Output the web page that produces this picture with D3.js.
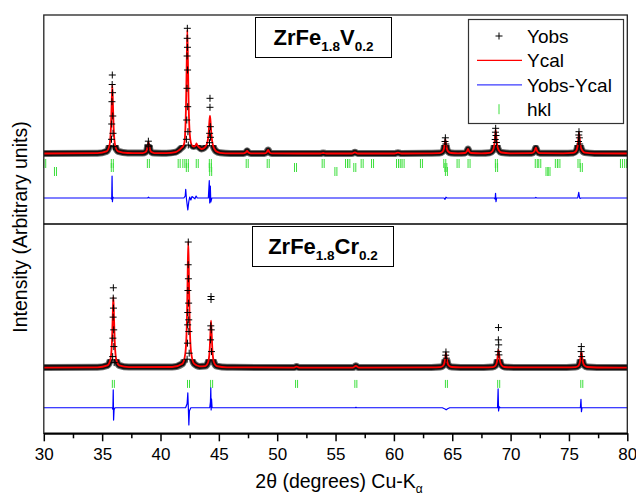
<!DOCTYPE html>
<html>
<head>
<meta charset="utf-8">
<script src="https://cdn.jsdelivr.net/npm/d3@7"></script>
<style>
  html, body { margin: 0; padding: 0; background: #fff; }
  svg { display: block; font-family: "Liberation Sans", Arial, sans-serif; }
</style>
</head>
<body>
<svg id="chart" width="636" height="497"></svg>
<script>
// ---------------- data ----------------
// 2-theta axis
const xTicks = [30, 35, 40, 45, 50, 55, 60, 65, 70, 75, 80];
const xMinorTicks = [32.5, 37.5, 42.5, 47.5, 52.5, 57.5, 62.5, 67.5, 72.5, 77.5];

// ZrFe1.8V0.2 : calculated profile [2theta, intensity]
const vYcal = [
  [30,105],[34.6,108],[35.37,126],[35.62,184],[35.75,352],[35.81,578],[35.87,790],[35.93,578],[35.99,352],[36.12,184],[36.37,126],[37.2,110],
  [38.47,109],[38.72,119],[38.85,147],[38.91,186],[38.97,223],[39.03,186],[39.09,147],[39.22,119],[39.47,109],[40.5,108],
  [41.3,118],[41.6,140],[41.8,162],[41.95,180],[42.05,215],[42.18,550],[42.24,957],[42.3,1340],[42.36,957],[42.42,550],[42.55,250],
  [42.7,185],[42.85,175],[42.98,182],[43.03,192],[43.09,205],[43.15,188],[43.28,170],[43.5,150],[43.74,160],[43.99,205],[44.12,300],
  [44.18,410],[44.24,483],[44.3,405],[44.36,295],[44.49,190],[44.74,130],[45.1,112],[46.0,106],
  [47.1,106],[47.3,115],[47.42,132],[47.54,115],[47.75,106],
  [48.9,106],[49.1,117],[49.22,140],[49.34,117],[49.55,106],
  [53.7,105],[53.94,110],[54.2,105],
  [56.4,105],[56.66,117],[56.9,105],
  [60.05,105],[60.35,113],[60.65,105],
  [63.2,107],[63.91,109],[64.16,121],[64.29,155],[64.35,202],[64.41,245],[64.47,202],[64.53,158],[64.66,124],[64.91,110],[65.5,107],
  [66.1,110],[66.27,130],[66.35,150],[66.43,130],[66.6,110],[67.5,107],
  [68.22,112],[68.47,132],[68.6,190],[68.66,267],[68.72,340],[68.78,275],[68.84,200],[68.97,140],[69.22,115],[70.0,107],
  [71.8,108],[72.04,125],[72.16,163],[72.28,128],[72.5,108],[74.5,107],
  [75.36,111],[75.61,129],[75.74,180],[75.8,249],[75.86,313],[75.92,260],[75.98,195],[76.11,140],[76.36,114],[77.2,106],
  [80,105]
];

// ZrFe1.8V0.2 : observed points on the reflections
const vYobs = [
  [35.87,890],[35.86,795],[35.89,713],[35.84,623],[35.91,480],[35.82,400],[35.93,307],[35.8,247],[35.96,173],
  [38.96,228],[38.93,192],[39.0,178],
  [42.3,1357],[42.29,1257],[42.31,1167],[42.28,1080],[42.32,940],[42.27,757],[42.33,573],[42.25,440],[42.35,323],[42.22,247],[42.38,190],
  [44.24,657],[44.24,567],[44.27,373],[44.21,307],[44.28,267],[44.2,213],
  [64.41,262],[64.38,225],[64.45,200],
  [68.72,357],[68.7,318],[68.75,285],[68.68,245],[68.78,215],
  [75.86,323],[75.84,290],[75.89,262],[75.82,225],[75.92,200]
];

// ZrFe1.8V0.2 : difference Yobs - Ycal
const vDiff = [
  [30,0],[35.75,0],[35.82,-10],[35.85,220],[35.88,-37],[35.92,10],[35.98,0],
  [38.9,0],[38.97,8],[39.05,0],
  [42.0,0],[42.12,20],[42.16,87],[42.22,-5],[42.34,-120],[42.42,-40],[42.5,10],[42.6,-20],[42.7,15],[42.95,-8],[43.05,20],[43.15,0],
  [44.1,0],[44.18,173],[44.22,-50],[44.27,120],[44.31,-40],[44.4,0],
  [64.3,0],[64.38,-13],[64.46,8],[64.55,0],
  [68.6,0],[68.68,-10],[68.71,47],[68.75,-37],[68.8,0],
  [72.1,0],[72.16,6],[72.25,0],
  [75.75,0],[75.84,57],[75.9,10],[75.95,-5],[76.05,0],[80,0]
];
const vDiffOffset = -340;

// ZrFe1.8V0.2 : reflection positions, three phases
const vHklA = [30.08,35.87,38.96,41.6,42.0,42.3,43.15,44.27,47.43,49.23,53.94,55.94,56.14,57.28,58.17,60.31,60.5,60.79,62.36,
               64.36,65.5,66.44,68.78,72.2,72.5,73.92,74.14,75.86,79.5,79.86];
const vHklB = [35.87,42.3,44.27,51.57,56.65,64.45,68.8,76.06];
const vHklC = [31.0,44.3,55.03,64.5,73.12,73.29];

// ZrFe1.8Cr0.2 : calculated profile
const crYcal = [
  [30,106],[34.6,109],[35.46,128],[35.71,187],[35.84,361],[35.9,594],[35.96,813],[36.02,594],[36.08,361],[36.21,187],[36.46,128],[37.3,111],
  [41.0,112],[41.88,145],[42.13,251],[42.26,560],[42.32,975],[42.38,1366],[42.44,975],[42.5,560],[42.63,251],[42.88,145],[43.35,118],
  [43.83,121],[44.08,160],[44.21,275],[44.27,430],[44.33,576],[44.39,430],[44.45,275],[44.58,160],[44.83,121],[45.7,109],
  [51.45,106],[51.66,116],[51.87,106],
  [56.5,106],[56.74,124],[56.98,106],
  [63.2,108],[63.96,111],[64.21,123],[64.34,159],[64.4,207],[64.46,253],[64.52,207],[64.58,162],[64.71,126],[64.96,112],[65.7,108],
  [67.7,108],[68.46,111],[68.71,126],[68.84,170],[68.9,228],[68.96,283],[69.02,235],[69.08,178],[69.21,132],[69.46,112],[70.3,108],
  [74.8,108],[75.56,111],[75.81,124],[75.94,164],[76.0,216],[76.06,266],[76.12,222],[76.18,170],[76.31,128],[76.56,112],[77.4,107],
  [80,106]
];

// ZrFe1.8Cr0.2 : observed points on the reflections
const crYobs = [
  [35.96,903],[35.95,800],[35.97,700],[35.94,610],[35.99,483],[35.92,400],[36.0,316],[35.9,216],[36.03,156],
  [42.38,1360],[42.37,1133],[42.39,993],[42.35,876],[42.41,750],[42.34,656],[42.42,583],[42.33,533],[42.43,466],[42.31,350],[42.46,250],[42.28,190],
  [44.33,816],[44.33,786],[44.31,523],[44.35,483],[44.29,383],[44.37,266],
  [64.46,262],[64.44,230],[64.49,200],
  [68.96,506],[68.95,383],[68.98,333],[68.93,266],[69.0,233],
  [76.06,316],[76.04,266],[76.09,216]
];

// ZrFe1.8Cr0.2 : difference Yobs - Ycal
const crDiff = [
  [30,0],[35.88,0],[35.92,-15],[35.95,178],[35.98,-123],[36.02,-20],[36.1,0],
  [42.15,0],[42.28,40],[42.34,148],[42.38,20],[42.43,-172],[42.48,-30],[42.6,0],
  [44.22,0],[44.28,60],[44.31,198],[44.34,-22],[44.37,90],[44.42,0],
  [56.7,0],[56.75,5],[56.8,0],
  [64.15,0],[64.38,-12],[64.48,-20],[64.6,-10],[64.78,0],
  [68.88,0],[68.93,188],[68.97,-32],[69.02,10],[69.1,0],
  [75.98,0],[76.03,85],[76.07,-40],[76.12,0],[80,0]
];
const crDiffOffset = -295;

// ZrFe1.8Cr0.2 : reflection positions
const crHkl = [35.96,42.4,44.38,51.66,56.74,64.5,68.98,76.1];

// text
const vTitle = [["ZrFe", false], ["1.8", true], ["V", false], ["0.2", true]];
const crTitle = [["ZrFe", false], ["1.8", true], ["Cr", false], ["0.2", true]];
const legendLabels = ["Yobs", "Ycal", "Yobs-Ycal", "hkl"];
const yAxisTitle = "Intensity (Arbitrary units)";
const xAxisTitle = "2\u03b8 (degrees) Cu-K";
const xAxisTitleSub = "\u03b1";

// ---------------- layout ----------------
const plotLeft = 43.8, plotRight = 627.3, plotTop = 15, plotBottom = 433.3, split = 224;
const RED = "#ff0000", BLUE = "#0000ff", GREEN = "#3ddf3d";

const svg = d3.select("#chart");
const x = d3.scaleLinear().domain([30, 80]).range([plotLeft, plotRight]);

const panels = [
  { ycal: vYcal, yobs: vYobs, diff: vDiff, offset: vDiffOffset,
    hkl: [[vHklA, 50, -40], [vHklB, 10, -80], [vHklC, -30, -120]],
    y: d3.scaleLinear().domain([-600, 1490]).range([split, plotTop]),
    title: vTitle, box: [255.5, 17.5, 136, 40] },
  { ycal: crYcal, yobs: crYobs, diff: crDiff, offset: crDiffOffset,
    hkl: [[crHkl, -17, -97]],
    y: d3.scaleLinear().domain([-550, 1540]).range([plotBottom, split]),
    title: crTitle, box: [252.5, 226.5, 141, 40] }
];

const defs = svg.append("defs");
const crossPath = "M-3.5,0H3.5M0,-3.5V3.5";
const bandCeiling = 190;   // dense observations merge into a band below this level

panels.forEach((p, i) => {
  const y = p.y;
  const g = svg.append("g");
  const line = d3.line().x(d => x(d[0])).y(d => y(d[1])).curve(d3.curveMonotoneX);

  // dense observation band along the background
  const clipId = "band" + i;
  defs.append("clipPath").attr("id", clipId)
    .append("rect")
    .attr("x", plotLeft).attr("width", plotRight - plotLeft)
    .attr("y", y(bandCeiling)).attr("height", y(0) - y(bandCeiling));
  g.append("path").datum(p.ycal)
    .attr("clip-path", `url(#${clipId})`)
    .attr("d", line).attr("fill", "none")
    .attr("stroke", "#6a6a6a").attr("stroke-width", 7);
  g.append("path").datum(p.ycal)
    .attr("clip-path", `url(#${clipId})`)
    .attr("d", line).attr("fill", "none")
    .attr("stroke", "#111").attr("stroke-width", 5);

  // calculated profile
  g.append("path").datum(p.ycal)
    .attr("d", line).attr("fill", "none")
    .attr("stroke", RED).attr("stroke-width", 1.8).attr("stroke-linejoin", "round");

  // observed points
  g.selectAll("path.obs").data(p.yobs).join("path")
    .attr("class", "obs")
    .attr("d", crossPath)
    .attr("transform", d => `translate(${x(d[0])},${y(d[1])})`)
    .attr("stroke", "#000").attr("stroke-width", 1).attr("fill", "none");

  // reflection markers (K-alpha doublet)
  p.hkl.forEach(([positions, hi, lo]) => {
    positions.forEach(pos => {
      [-1, 1].forEach(dx => {
        g.append("line")
          .attr("x1", x(pos) + dx).attr("x2", x(pos) + dx)
          .attr("y1", y(hi)).attr("y2", y(lo))
          .attr("stroke", GREEN).attr("stroke-width", 1);
      });
    });
  });

  // difference curve
  const diffLine = d3.line().x(d => x(d[0])).y(d => y(p.offset + d[1]));
  g.append("path").datum(p.diff)
    .attr("d", diffLine).attr("fill", "none")
    .attr("stroke", BLUE).attr("stroke-width", 1.2).attr("stroke-linejoin", "round");

  // composition label
  const [bx, by, bw, bh] = p.box;
  g.append("rect").attr("x", bx).attr("y", by).attr("width", bw).attr("height", bh)
    .attr("fill", "#fff").attr("stroke", "#000").attr("stroke-width", 1);
  const t = g.append("text")
    .attr("x", bx + bw / 2).attr("y", by + 27)
    .attr("text-anchor", "middle")
    .attr("font-weight", "bold").attr("font-size", 22).attr("fill", "#000");
  let shifted = false;
  p.title.forEach(([txt, sub]) => {
    const ts = t.append("tspan").text(txt);
    if (sub && !shifted) { ts.attr("dy", 6).attr("font-size", 13.5); shifted = true; }
    else if (!sub && shifted) { ts.attr("dy", -6); shifted = false; }
    else if (sub) ts.attr("font-size", 13.5);
  });
});

// frame and panel divider
svg.append("rect")
  .attr("x", plotLeft).attr("y", plotTop)
  .attr("width", plotRight - plotLeft).attr("height", plotBottom - plotTop)
  .attr("fill", "none").attr("stroke", "#222").attr("stroke-width", 1.3);
svg.append("line")
  .attr("x1", plotLeft).attr("x2", plotRight).attr("y1", split).attr("y2", split)
  .attr("stroke", "#000").attr("stroke-width", 1.6);

// x axis
const axisG = svg.append("g").attr("transform", `translate(0,${plotBottom})`)
  .call(d3.axisBottom(x).tickValues(xTicks).tickSize(8).tickSizeOuter(0).tickPadding(6.5).tickFormat(d3.format("d")));
axisG.select(".domain").attr("stroke", "#000").attr("stroke-width", 2);
axisG.selectAll(".tick line").attr("stroke", "#000").attr("stroke-width", 1.5);
axisG.selectAll(".tick text").attr("font-size", 17).attr("fill", "#000")
  .attr("font-family", "'Liberation Sans', Arial, sans-serif");
const minorG = svg.append("g").attr("transform", `translate(0,${plotBottom})`)
  .call(d3.axisBottom(x).tickValues(xMinorTicks).tickSize(5).tickSizeOuter(0).tickFormat(""));
minorG.select(".domain").remove();
minorG.selectAll(".tick line").attr("stroke", "#000").attr("stroke-width", 1.5);

// axis titles
svg.append("text")
  .attr("transform", "translate(27,227) rotate(-90)")
  .attr("text-anchor", "middle").attr("font-size", 19.5).attr("fill", "#000")
  .text(yAxisTitle);
const xt = svg.append("text")
  .attr("x", 339).attr("y", 488)
  .attr("text-anchor", "middle").attr("font-size", 19.5).attr("fill", "#000");
xt.append("tspan").text(xAxisTitle);
xt.append("tspan").attr("dy", 5).attr("font-size", 12).text(xAxisTitleSub);

// legend
const lg = svg.append("g");
lg.append("rect").attr("x", 468.5).attr("y", 19.5).attr("width", 155).attr("height", 104)
  .attr("fill", "#fff").attr("stroke", "#333").attr("stroke-width", 1.2);
legendLabels.forEach((lab, i) => {
  const cy = 36 + i * 24.4;
  if (i === 0) {
    lg.append("path").attr("d", crossPath).attr("transform", `translate(499,${cy})`)
      .attr("stroke", "#000").attr("stroke-width", 1).attr("fill", "none");
  } else if (i === 3) {
    lg.append("line").attr("x1", 499).attr("x2", 499).attr("y1", cy - 5).attr("y2", cy + 5)
      .attr("stroke", GREEN).attr("stroke-width", 1);
  } else {
    lg.append("line").attr("x1", 477).attr("x2", 522).attr("y1", cy).attr("y2", cy)
      .attr("stroke", i === 1 ? RED : "#3b3bff").attr("stroke-width", 1.2);
  }
  lg.append("text").attr("x", 527).attr("y", cy + 7)
    .attr("font-size", 19).attr("fill", "#000").text(lab);
});
</script>
</body>
</html>
